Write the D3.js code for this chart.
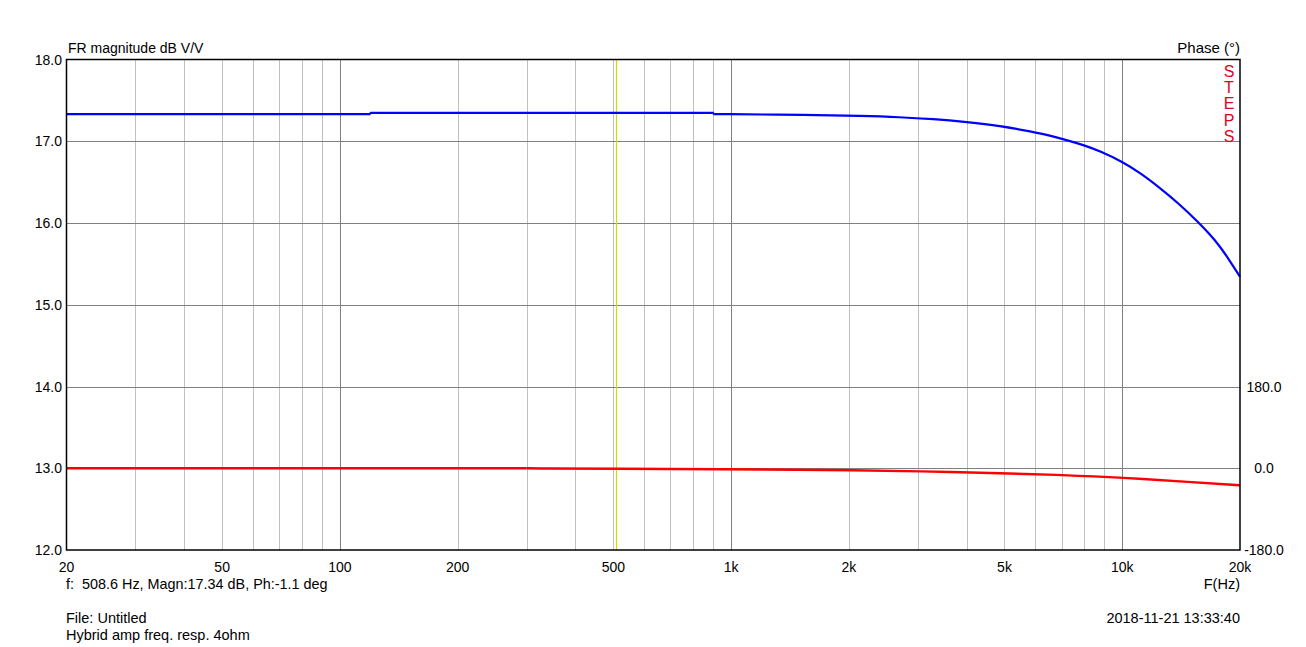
<!DOCTYPE html>
<html><head><meta charset="utf-8">
<script src="https://cdn.jsdelivr.net/npm/d3@7"></script>
<style>body{margin:0;background:#fff}svg{display:block}text{font-family:"Liberation Sans",Arial,sans-serif;font-size:14px;fill:#000}</style>
</head><body><div id="c"></div>
<script>
// data
const freqs   = [20, 119, 120, 899, 900, 1600, 2150, 2700, 3280, 4010, 4860, 5900, 6530, 7200, 7950, 8770, 10000, 11100, 12480, 14050, 15640, 16750, 17770, 18840, 20000];
const magDb   = [17.333, 17.333, 17.346, 17.346, 17.333, 17.322, 17.31, 17.295, 17.272, 17.235, 17.19, 17.115, 17.07, 17.015, 16.955, 16.88, 16.75, 16.615, 16.43, 16.225, 16.01, 15.862, 15.715, 15.537, 15.343];
const phFreqs = [20, 300, 320, 500, 1000, 1500, 2000, 3000, 5000, 7000, 10000, 15000, 20000];
const phaseDeg= [0, 0, -0.6, -1.1, -2.1, -3.2, -4.3, -6.4, -11, -14.8, -20.6, -30.5, -37.5];
const xTicks  = [20, 50, 100, 200, 500, 1000, 2000, 5000, 10000, 20000];
const xTickLabels = ["20","50","100","200","500","1k","2k","5k","10k","20k"];
const yTicks  = [12, 13, 14, 15, 16, 17, 18];
const phTicks = [-180, 0, 180];
const cursorF = 508.6;

const W = 1306, H = 647;
const L = 66.5, R = 1240, T = 59.5, B = 550;
const svg = d3.select("#c").append("svg").attr("width", W).attr("height", H);
const x = d3.scaleLog().domain([20, 20000]).range([L, R]);
const y = d3.scaleLinear().domain([12, 18]).range([B, T]);
const yp = d3.scaleLinear().domain([-180, 180]).range([y(12), y(14)]);

// minor vertical grid
const minor = [];
for (let d = 10; d <= 10000; d *= 10) for (let m = 2; m <= 9; m++) { const f = d * m; if (f > 20 && f < 20000) minor.push(f); }
svg.append("g").selectAll("line").data(minor.filter(f => ![100,1000,10000].includes(f))).join("line")
  .attr("x1", d => Math.round(x(d)) + 0.5).attr("x2", d => Math.round(x(d)) + 0.5)
  .attr("y1", T).attr("y2", B).attr("stroke", "#c0c0c0").attr("stroke-width", 1);
svg.append("g").selectAll("line").data([100, 1000, 10000]).join("line")
  .attr("x1", d => Math.round(x(d)) + 0.5).attr("x2", d => Math.round(x(d)) + 0.5)
  .attr("y1", T).attr("y2", B).attr("stroke", "#808080").attr("stroke-width", 1);
svg.append("g").selectAll("line").data(yTicks.slice(1, -1)).join("line")
  .attr("x1", L).attr("x2", R).attr("y1", d => Math.round(y(d)) + 0.5).attr("y2", d => Math.round(y(d)) + 0.5)
  .attr("stroke", "#808080").attr("stroke-width", 1);

// cursor
svg.append("line").attr("x1", Math.round(x(cursorF)) + 0.5).attr("x2", Math.round(x(cursorF)) + 0.5)
  .attr("y1", T).attr("y2", B).attr("stroke", "#d8d800").attr("stroke-width", 1.2);

// curves: flat stepped part drawn straight, roll-off smoothed
const magPts = freqs.map((f, i) => [f, magDb[i]]);
const splitM = freqs.indexOf(900);
const lineM = c => d3.line().x(d => x(d[0])).y(d => y(d[1])).curve(c);
svg.append("path").datum(magPts.slice(0, splitM + 1))
  .attr("d", lineM(d3.curveLinear)).attr("fill", "none").attr("stroke", "#0000ff").attr("stroke-width", 2.2);
svg.append("path").datum(magPts.slice(splitM))
  .attr("d", lineM(d3.curveBasis)).attr("fill", "none").attr("stroke", "#0000ff").attr("stroke-width", 2.2);

const phPts = phFreqs.map((f, i) => [f, phaseDeg[i]]);
const lineP = c => d3.line().x(d => x(d[0])).y(d => yp(d[1])).curve(c);
svg.append("path").datum(phPts.slice(0, 2))
  .attr("d", lineP(d3.curveLinear)).attr("fill", "none").attr("stroke", "#ff0000").attr("stroke-width", 2.4);
svg.append("path").datum(phPts.slice(1))
  .attr("d", lineP(d3.curveBasis)).attr("fill", "none").attr("stroke", "#ff0000").attr("stroke-width", 2.4);

// frame
svg.append("rect").attr("x", L).attr("y", T).attr("width", R - L).attr("height", B - T)
  .attr("fill", "none").attr("stroke", "#000").attr("stroke-width", 1.5);

// left ticks
svg.append("g").selectAll("text").data(yTicks).join("text")
  .attr("x", 62).attr("y", d => y(d) + 5).attr("text-anchor", "end").text(d => d.toFixed(1));
// right ticks
svg.append("g").selectAll("text").data(phTicks).join("text")
  .attr("x", 1264).attr("y", d => yp(d) + 5).attr("text-anchor", "middle").text(d => d.toFixed(1));
// x ticks
svg.append("g").selectAll("text").data(xTicks).join("text")
  .attr("x", d => x(d)).attr("y", 572).attr("text-anchor", "middle").text((d, i) => xTickLabels[i]);

svg.append("text").attr("x", 68).attr("y", 53).style("font-size", "14px").text("FR magnitude dB V/V");
svg.append("text").attr("x", 1240).attr("y", 53).attr("text-anchor", "end").style("font-size", "15px").text("Phase (°)");
svg.append("text").attr("x", 1240).attr("y", 589).attr("text-anchor", "end").style("font-size", "14.5px").text("F(Hz)");
svg.append("text").attr("x", 66).attr("y", 589).attr("xml:space", "preserve").style("white-space", "pre").style("font-size", "14.4px").text("f:  508.6 Hz, Magn:17.34 dB, Ph:-1.1 deg");
svg.append("text").attr("x", 66).attr("y", 623).style("font-size", "14.5px").text("File: Untitled");
svg.append("text").attr("x", 66).attr("y", 640).style("font-size", "14.5px").text("Hybrid amp freq. resp. 4ohm");
svg.append("text").attr("x", 1240).attr("y", 623).attr("text-anchor", "end").style("font-size", "14.5px").text("2018-11-21 13:33:40");

// STEPS vertical label
svg.append("g").selectAll("text").data("STEPS".split("")).join("text")
  .attr("x", 1229).attr("y", (d, i) => 77 + i * 16.2).attr("text-anchor", "middle")
  .style("font-size", "16px").style("fill", "#e00020").text(d => d);
</script></body></html>
